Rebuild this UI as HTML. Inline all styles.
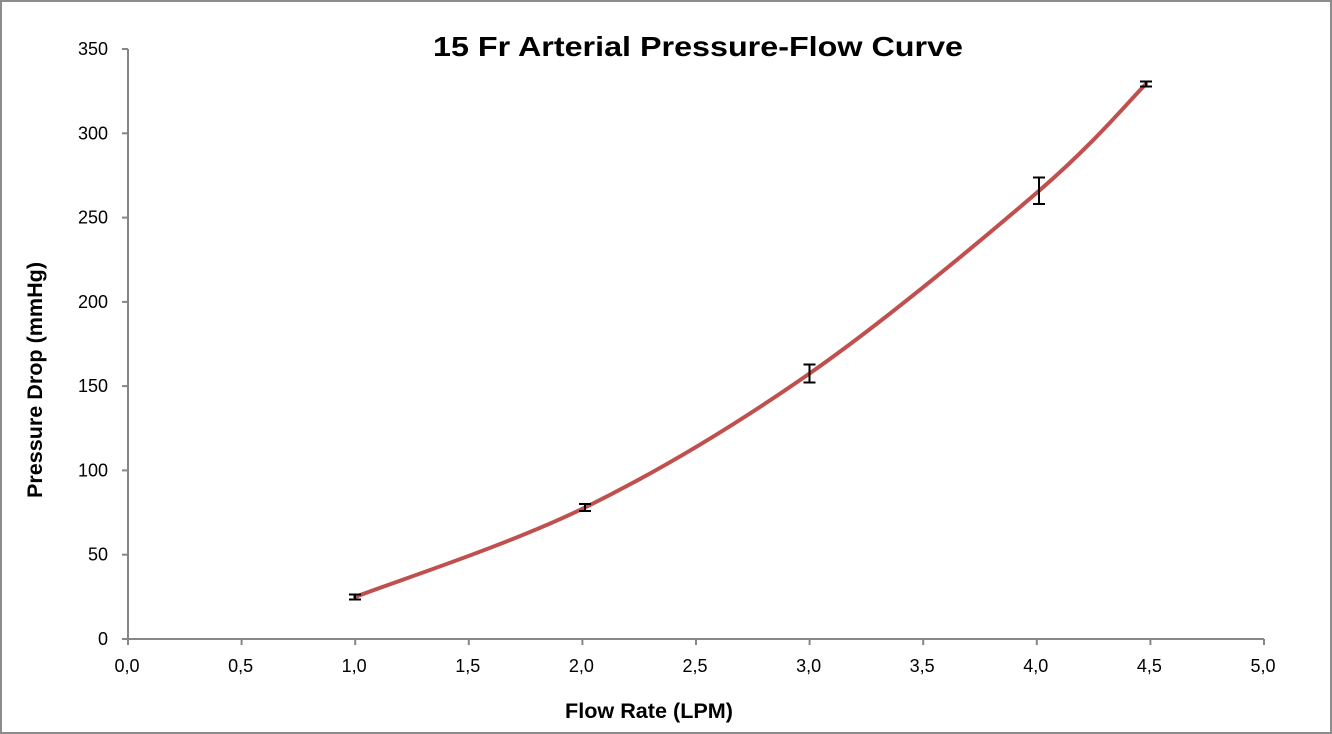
<!DOCTYPE html>
<html>
<head>
<meta charset="utf-8">
<style>
  html, body { margin: 0; padding: 0; background: #fff; }
  svg { display: block; }
  text { font-family: "Liberation Sans", "DejaVu Sans", sans-serif; fill: #000; }
</style>
</head>
<body>
<svg width="1332" height="734" viewBox="0 0 1332 734" xmlns="http://www.w3.org/2000/svg">
  <rect x="0" y="0" width="1332" height="734" fill="#fff"/>
  <rect x="1" y="1" width="1330" height="732" fill="none" stroke="#8c8c8c" stroke-width="2"/>

  <!-- Title -->
  <text x="698" y="56" font-size="28" font-weight="bold" text-anchor="middle" textLength="530" lengthAdjust="spacingAndGlyphs">15 Fr Arterial Pressure-Flow Curve</text>

  <!-- Axes -->
  <g stroke="#868686" stroke-width="2" fill="none">
    <line x1="128" y1="49" x2="128" y2="640"/>
    <line x1="127" y1="639" x2="1264" y2="639"/>
    <!-- y ticks -->
    <line x1="122" y1="639" x2="128" y2="639"/>
    <line x1="122" y1="554.7" x2="128" y2="554.7"/>
    <line x1="122" y1="470.4" x2="128" y2="470.4"/>
    <line x1="122" y1="386.1" x2="128" y2="386.1"/>
    <line x1="122" y1="301.9" x2="128" y2="301.9"/>
    <line x1="122" y1="217.6" x2="128" y2="217.6"/>
    <line x1="122" y1="133.3" x2="128" y2="133.3"/>
    <line x1="122" y1="49" x2="128" y2="49"/>
    <!-- x ticks -->
    <line x1="128" y1="639" x2="128" y2="645"/>
    <line x1="241.6" y1="639" x2="241.6" y2="645"/>
    <line x1="355.2" y1="639" x2="355.2" y2="645"/>
    <line x1="468.8" y1="639" x2="468.8" y2="645"/>
    <line x1="582.4" y1="639" x2="582.4" y2="645"/>
    <line x1="696" y1="639" x2="696" y2="645"/>
    <line x1="809.6" y1="639" x2="809.6" y2="645"/>
    <line x1="923.2" y1="639" x2="923.2" y2="645"/>
    <line x1="1036.8" y1="639" x2="1036.8" y2="645"/>
    <line x1="1150.4" y1="639" x2="1150.4" y2="645"/>
    <line x1="1264" y1="639" x2="1264" y2="645"/>
  </g>

  <!-- y tick labels -->
  <g font-size="18" text-anchor="end">
    <text x="108" y="645">0</text>
    <text x="108" y="560.7">50</text>
    <text x="108" y="476.4">100</text>
    <text x="108" y="392.1">150</text>
    <text x="108" y="307.9">200</text>
    <text x="108" y="223.6">250</text>
    <text x="108" y="139.3">300</text>
    <text x="108" y="55">350</text>
  </g>

  <!-- x tick labels -->
  <g font-size="18" text-anchor="middle">
    <text x="127" y="672">0,0</text>
    <text x="240.6" y="672">0,5</text>
    <text x="354.2" y="672">1,0</text>
    <text x="467.8" y="672">1,5</text>
    <text x="581.4" y="672">2,0</text>
    <text x="695" y="672">2,5</text>
    <text x="808.6" y="672">3,0</text>
    <text x="922.2" y="672">3,5</text>
    <text x="1035.8" y="672">4,0</text>
    <text x="1149.4" y="672">4,5</text>
    <text x="1263" y="672">5,0</text>
  </g>

  <!-- Axis titles -->
  <text x="649" y="718" font-size="21" font-weight="bold" text-anchor="middle" textLength="168" lengthAdjust="spacingAndGlyphs">Flow Rate (LPM)</text>
  <text transform="translate(42,380) rotate(-90)" x="0" y="0" font-size="21" font-weight="bold" text-anchor="middle" textLength="236" lengthAdjust="spacingAndGlyphs">Pressure Drop (mmHg)</text>

  <!-- Curve -->
  <path d="M355,597 C393.3,582.1 509.25,544.75 585,507.5 C660.75,470.25 733.83,426.28 809.5,373.5 C885.17,320.72 982.92,239.05 1039,190.8 C1095.08,142.55 1128.17,101.8 1146,84"
        fill="none" stroke="#c0504d" stroke-width="4" stroke-linecap="round" stroke-linejoin="round"/>

  <!-- Error bars -->
  <g stroke="#000" stroke-width="2" fill="none">
    <line x1="355" y1="594.5" x2="355" y2="599.5"/>
    <line x1="349" y1="594.5" x2="361" y2="594.5"/>
    <line x1="349" y1="599.5" x2="361" y2="599.5"/>

    <line x1="585" y1="504" x2="585" y2="511"/>
    <line x1="579" y1="504" x2="591" y2="504"/>
    <line x1="579" y1="511" x2="591" y2="511"/>

    <line x1="809.5" y1="364.5" x2="809.5" y2="382.5"/>
    <line x1="803.5" y1="364.5" x2="815.5" y2="364.5"/>
    <line x1="803.5" y1="382.5" x2="815.5" y2="382.5"/>

    <line x1="1039" y1="177.5" x2="1039" y2="204"/>
    <line x1="1033" y1="177.5" x2="1045" y2="177.5"/>
    <line x1="1033" y1="204" x2="1045" y2="204"/>

    <line x1="1146" y1="81.5" x2="1146" y2="86.5"/>
    <line x1="1140" y1="81.5" x2="1152" y2="81.5"/>
    <line x1="1140" y1="86.5" x2="1152" y2="86.5"/>
  </g>
</svg>
</body>
</html>
